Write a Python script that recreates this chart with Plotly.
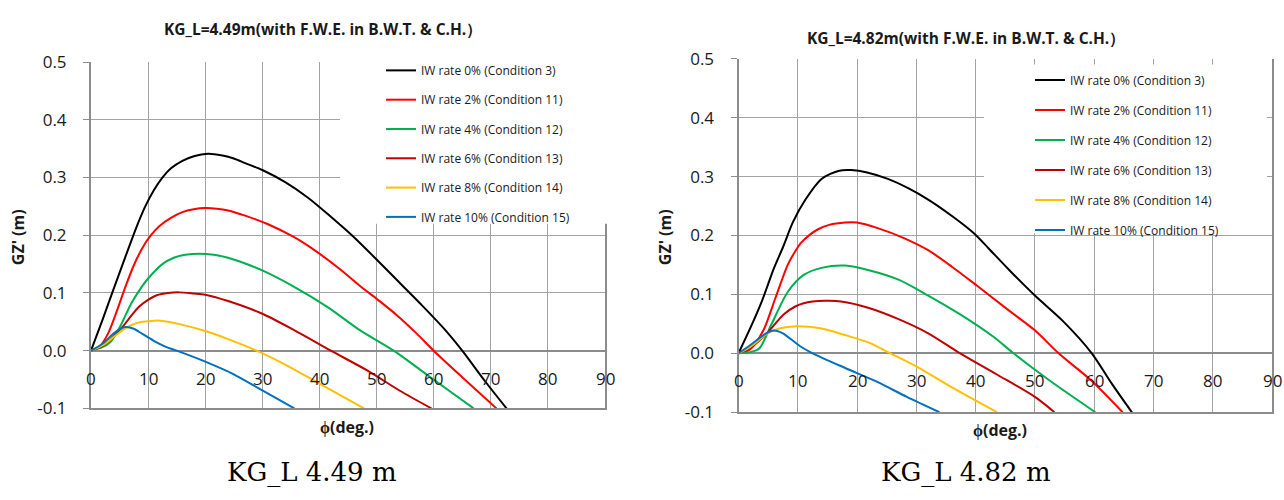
import plotly.graph_objects as go

W, H = 1284, 500

# ---------------- data ----------------
PHI_TICKS = [0, 10, 20, 30, 40, 50, 60, 70, 80, 90]
GZ_TICKS = [-0.1, 0.0, 0.1, 0.2, 0.3, 0.4, 0.5]
GZ_TICK_LABELS = ["-0.1", "0.0", "0.1", "0.2", "0.3", "0.4", "0.5"]

SERIES_NAMES = [
    "IW rate 0% (Condition 3)",
    "IW rate 2% (Condition 11)",
    "IW rate 4% (Condition 12)",
    "IW rate 6% (Condition 13)",
    "IW rate 8% (Condition 14)",
    "IW rate 10% (Condition 15)",
]

TITLE_A = "KG_L=4.49m(with F.W.E. in B.W.T. & C.H.）"
TITLE_B = "KG_L=4.82m(with F.W.E. in B.W.T. & C.H.）"
CAPTION_A = "KG_L 4.49 m"
CAPTION_B = "KG_L 4.82 m"
X_TITLE = "ϕ(deg.)"
Y_TITLE = "GZ' (m)"

# KG_L = 4.49 m
phi_a0 = [0, 2, 4, 6, 8, 9.5, 11, 12.5, 14, 16, 18, 20.5, 23, 25, 27, 30, 34, 38, 42, 46, 50, 54, 58, 62, 65, 69, 73]
gz_a0 = [0, 0.053, 0.108, 0.162, 0.215, 0.25, 0.278, 0.3, 0.316, 0.329, 0.337, 0.341, 0.338, 0.333, 0.325, 0.313, 0.292, 0.265, 0.232, 0.197, 0.158, 0.118, 0.078, 0.036, 0.0, -0.053, -0.103]
phi_a1 = [0, 1.5, 3, 4.5, 6, 7.5, 9, 10.5, 12, 14, 16, 18, 20, 22, 24, 27, 31, 35.5, 39, 43.5, 47, 50, 53.5, 57, 60, 65, 71]
gz_a1 = [0, 0.007, 0.03, 0.068, 0.11, 0.148, 0.178, 0.2, 0.216, 0.23, 0.24, 0.245, 0.247, 0.246, 0.243, 0.234, 0.219, 0.197, 0.175, 0.142, 0.113, 0.09, 0.062, 0.03, 0.0, -0.046, -0.1]
phi_a2 = [0, 2, 3.4, 5, 7, 8.5, 10, 12.5, 14.5, 16.5, 19, 21.5, 24, 27, 30, 35.5, 41.5, 47, 53, 59, 67]
gz_a2 = [0, 0.006, 0.015, 0.04, 0.081, 0.105, 0.125, 0.15, 0.161, 0.166, 0.168, 0.166, 0.161, 0.151, 0.139, 0.111, 0.075, 0.036, 0.0, -0.043, -0.1]
phi_a3 = [0, 2, 4, 5.6, 7, 8.5, 10, 11.5, 13.5, 15.5, 18, 20, 24, 30, 35.5, 42, 48.5, 54, 59.6]
gz_a3 = [0, 0.008, 0.025, 0.042, 0.06, 0.077, 0.088, 0.096, 0.1, 0.101, 0.099, 0.097, 0.086, 0.064, 0.036, 0.0, -0.035, -0.069, -0.1]
phi_a4 = [0, 2, 4, 5.6, 7, 8.5, 10, 12, 15.5, 20, 24, 29, 34, 40, 47.8]
gz_a4 = [0, 0.009, 0.024, 0.036, 0.044, 0.049, 0.051, 0.052, 0.046, 0.034, 0.02, 0.0, -0.024, -0.057, -0.1]
phi_a5 = [0, 2, 4, 5, 6, 7.5, 9, 11, 13, 15, 20, 25, 30, 35.6]
gz_a5 = [0, 0.012, 0.03, 0.037, 0.041, 0.038, 0.029, 0.017, 0.007, 0.0, -0.019, -0.041, -0.069, -0.1]

# KG_L = 4.82 m
phi_b0 = [0, 2, 4, 6, 7.5, 9.2, 11.3, 14, 17, 19, 21.7, 25.2, 28.7, 32, 36.3, 39.8, 42.2, 45.7, 50, 54.7, 59.6, 63, 66.7]
gz_b0 = [0, 0.043, 0.09, 0.145, 0.18, 0.223, 0.261, 0.296, 0.31, 0.311, 0.307, 0.296, 0.28, 0.261, 0.231, 0.203, 0.178, 0.141, 0.098, 0.055, 0.0, -0.052, -0.105]
phi_b1 = [0, 2, 4.2, 6.2, 8.3, 9.5, 10.5, 12, 13.5, 15.3, 18, 20, 23.6, 27.8, 32, 36, 40.2, 45.7, 50, 54, 59.6, 64.8]
gz_b1 = [0, 0.007, 0.039, 0.093, 0.15, 0.172, 0.187, 0.201, 0.211, 0.218, 0.222, 0.222, 0.212, 0.196, 0.175, 0.147, 0.115, 0.072, 0.039, 0.0, -0.047, -0.1]
phi_b2 = [0, 2, 3.5, 5.5, 8.3, 11, 14, 18, 22, 27, 32, 37.4, 43, 46.4, 52.6, 60.2]
gz_b2 = [0, 0.002, 0.008, 0.048, 0.104, 0.133, 0.145, 0.149, 0.141, 0.125, 0.098, 0.066, 0.028, 0.0, -0.047, -0.1]
phi_b3 = [0, 2, 4.8, 7.6, 9.5, 11, 14.5, 17.3, 22, 27, 32, 37.4, 43.6, 50, 53.3]
gz_b3 = [0, 0.009, 0.034, 0.066, 0.079, 0.085, 0.089, 0.088, 0.077, 0.058, 0.034, 0.0, -0.036, -0.074, -0.1]
phi_b4 = [0, 2, 4.8, 6.9, 9.7, 14, 18, 22, 25.6, 30.5, 36, 43.6]
gz_b4 = [0, 0.011, 0.033, 0.042, 0.046, 0.042, 0.031, 0.018, 0.0, -0.025, -0.058, -0.1]
phi_b5 = [0, 2, 4.2, 5.5, 6.5, 7.5, 10.4, 12.5, 18, 23.5, 28.4, 33.9]
gz_b5 = [0, 0.014, 0.031, 0.038, 0.038, 0.034, 0.012, 0.0, -0.025, -0.049, -0.074, -0.1]

# ---------------- styling ----------------
COLORS = ["#000000", "#FF0000", "#00B050", "#C00000", "#FFC000", "#0070C0"]
GRID = "#a3a3a3"
AXIS = "#8c8c8c"
TXT = "#1a1a1a"
SANS = "Open Sans"


def px(xp):
    return xp / W


def py(yp):
    return 1 - yp / H


fig = go.Figure()

left_data = [(phi_a0, gz_a0), (phi_a1, gz_a1), (phi_a2, gz_a2),
             (phi_a3, gz_a3), (phi_a4, gz_a4), (phi_a5, gz_a5)]
right_data = [(phi_b0, gz_b0), (phi_b1, gz_b1), (phi_b2, gz_b2),
              (phi_b3, gz_b3), (phi_b4, gz_b4), (phi_b5, gz_b5)]

for i, (xs, ys) in enumerate(left_data):
    fig.add_trace(go.Scatter(x=xs, y=ys, mode="lines", name=SERIES_NAMES[i],
                             line=dict(color=COLORS[i], width=2, shape="spline", smoothing=0.8),
                             xaxis="x", yaxis="y", legend="legend",
                             legendgroup=f"a{i}"))
for i, (xs, ys) in enumerate(right_data):
    fig.add_trace(go.Scatter(x=xs, y=ys, mode="lines", name=SERIES_NAMES[i],
                             line=dict(color=COLORS[i], width=2, shape="spline", smoothing=0.8),
                             xaxis="x2", yaxis="y2", legend="legend2",
                             legendgroup=f"b{i}"))

xa = dict(range=[0, 90], tickvals=PHI_TICKS, showticklabels=False, showgrid=True,
          gridcolor=GRID, gridwidth=1, showline=True, linecolor=AXIS, linewidth=2,
          zeroline=False, ticks="", fixedrange=True)
ya = dict(range=[-0.1, 0.5], tickvals=GZ_TICKS, ticktext=GZ_TICK_LABELS, showgrid=True,
          gridcolor=GRID, gridwidth=1, showline=True, linecolor=AXIS, linewidth=2,
          mirror=True, zeroline=True, zerolinecolor=AXIS, zerolinewidth=2,
          ticks="outside", ticklen=6, tickcolor=AXIS, tickwidth=1,
          ticklabelstandoff=13, tickfont=dict(family=SANS, size=17, color=TXT))

fig.update_layout(
    width=W, height=H, margin=dict(l=0, r=0, t=0, b=0),
    paper_bgcolor="white", plot_bgcolor="white",
    xaxis=dict(xa, domain=[px(91), px(605)], anchor="y"),
    yaxis=dict(ya, domain=[py(415.5), py(52.5)], anchor="x"),
    xaxis2=dict(xa, domain=[px(738.5), px(1272)], anchor="y2"),
    yaxis2=dict(ya, domain=[py(419.5), py(49)], anchor="x2"),
    legend=dict(x=px(381), y=py(46), xanchor="left", yanchor="top",
                bgcolor="rgba(0,0,0,0)", borderwidth=0, traceorder="grouped",
                tracegroupgap=10.3, itemwidth=30,
                font=dict(family=SANS, size=12, color=TXT)),
    legend2=dict(x=px(1030), y=py(56), xanchor="left", yanchor="top",
                 bgcolor="rgba(0,0,0,0)", borderwidth=0, traceorder="grouped",
                 tracegroupgap=11, itemwidth=30,
                 font=dict(family=SANS, size=12, color=TXT)),
    showlegend=True,
)

# white legend panels covering the grid
fig.add_shape(type="rect", xref="paper", yref="paper",
              x0=px(340), x1=px(608), y0=py(222), y1=py(44),
              fillcolor="white", line=dict(width=0), layer="above")
fig.add_shape(type="rect", xref="paper", yref="paper",
              x0=px(984), x1=px(1267), y0=py(232), y1=py(55),
              fillcolor="white", line=dict(width=0), layer="above")

ann = []
# x tick labels drawn along the GZ=0 line
for xr, yr in (("x", "y"), ("x2", "y2")):
    for t in PHI_TICKS:
        ann.append(dict(x=t, y=0, xref=xr, yref=yr, text=str(t), showarrow=False,
                        xanchor="center", yanchor="top", yshift=-14,
                        font=dict(family=SANS, size=17, color=TXT)))

# titles
ann.append(dict(x=px(323), y=py(18), xref="paper", yref="paper", text=f"<b>{TITLE_A}</b>",
                showarrow=False, xanchor="center", yanchor="middle",
                font=dict(family=SANS, size=15.5, color=TXT)))
ann.append(dict(x=px(966), y=py(27), xref="paper", yref="paper", text=f"<b>{TITLE_B}</b>",
                showarrow=False, xanchor="center", yanchor="middle",
                font=dict(family=SANS, size=15.5, color=TXT)))
# axis titles
for cx, cy in ((347, 435), (1000, 438)):
    ann.append(dict(x=px(cx), y=py(cy), xref="paper", yref="paper", text=f"<b>{X_TITLE}</b>",
                    showarrow=False, xanchor="center", yanchor="middle",
                    font=dict(family=SANS, size=16, color=TXT)))
for cx, cy in ((18, 236), (665, 236)):
    ann.append(dict(x=px(cx), y=py(cy), xref="paper", yref="paper", text=f"<b>{Y_TITLE}</b>",
                    showarrow=False, xanchor="center", yanchor="middle", textangle=-90,
                    font=dict(family=SANS, size=16, color=TXT)))
# captions
ann.append(dict(x=px(312), y=py(483), xref="paper", yref="paper", text=CAPTION_A,
                showarrow=False, xanchor="center", yanchor="middle",
                font=dict(family="DejaVu Serif", size=26, color="#000000")))
ann.append(dict(x=px(966), y=py(483), xref="paper", yref="paper", text=CAPTION_B,
                showarrow=False, xanchor="center", yanchor="middle",
                font=dict(family="DejaVu Serif", size=26, color="#000000")))

fig.update_layout(annotations=ann)

fig.write_html("out.html")
